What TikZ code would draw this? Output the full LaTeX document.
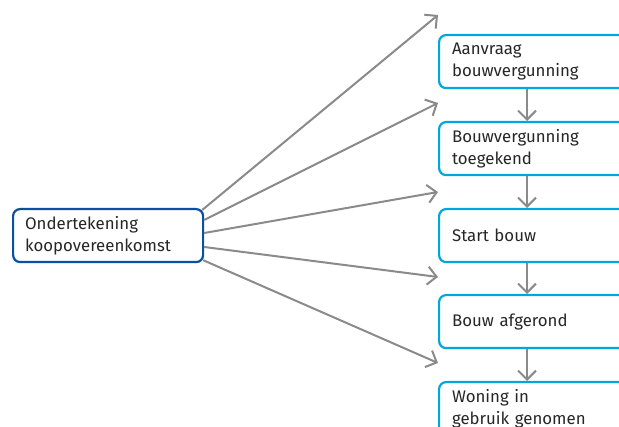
\documentclass[tikz,border=0pt]{standalone}
\usepackage{fontspec}
\setmainfont{Fira Sans}
\usetikzlibrary{arrows.meta,calc,positioning}
\definecolor{darkblue}{HTML}{0A4FA0}
\definecolor{lightblue}{HTML}{00A6DD}
\definecolor{arrowgray}{HTML}{8A8A8A}
\begin{document}
\begin{tikzpicture}[x=1pt,y=-1pt,
  every node/.style={font=\fontsize{16.8}{22}\selectfont, text=black!85},
  leftbox/.style={draw=darkblue, line width=2.2pt, rounded corners=7pt, minimum width=190pt, minimum height=53pt, text width=166pt, align=left, inner xsep=12pt, inner ysep=0pt, anchor=north west},
  rightbox/.style={draw=lightblue, line width=2.2pt, rounded corners=7pt, minimum width=192pt, minimum height=53pt, text width=166pt, align=left, inner xsep=13pt, inner ysep=0pt, anchor=north west},
  conn/.style={draw=arrowgray, line width=2pt, -{Straight Barb[length=9pt,width=18pt]}}
]
\useasboundingbox (0,0) rectangle (619,427);
\clip (0,0) rectangle (619,427);

\node[leftbox] (L) at (12,208) {Ondertekening\\koopovereenkomst};

\node[rightbox] (A) at (438,34) {Aanvraag\\bouwvergunning};
\node[rightbox] (B) at (438,121) {Bouwvergunning\\toegekend};
\node[rightbox] (C) at (438,208) {Start bouw};
\node[rightbox] (D) at (438,294) {Bouw afgerond};
\node[rightbox] (E) at (438,381) {Woning in\\gebruik genomen};

\coordinate (e1) at (438,15);
\coordinate (e2) at (438,103);
\coordinate (e3) at (438,192);
\coordinate (e4) at (438,277);
\coordinate (e5) at (438,363);

\draw[conn] ($(L.north east)+(-2,2)$) -- (e1);
\draw[conn] ($(L.north east)+(0,12)$) -- (e2);
\draw[conn] ($(L.north east)+(0,25)$) -- (e3);
\draw[conn] ($(L.north east)+(0,39)$) -- (e4);
\draw[conn] ($(L.south east)+(-1,-3)$) -- (e5);

\draw[conn] (A.south -| 527,0) -- (B.north -| 527,0);
\draw[conn] (B.south -| 527,0) -- (C.north -| 527,0);
\draw[conn] (C.south -| 527,0) -- (D.north -| 527,0);
\draw[conn] (D.south -| 527,0) -- (E.north -| 527,0);
\end{tikzpicture}
\end{document}
